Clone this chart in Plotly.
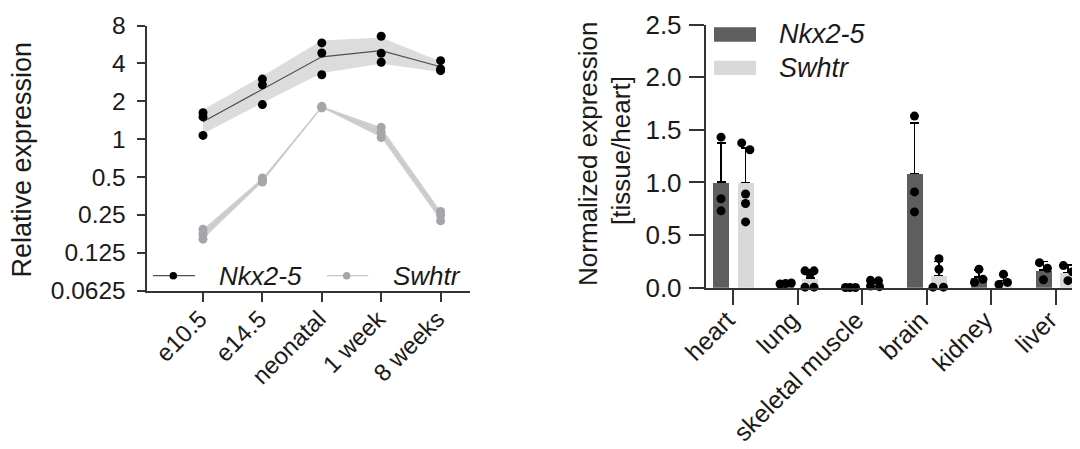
import numpy as np
import plotly.graph_objects as go

# ---------------- data ----------------
stages = ["e10.5", "e14.5", "neonatal", "1 week", "8 weeks"]
nkx_dev = [[1.62, 1.50, 1.07], [3.00, 2.70, 1.88], [5.82, 4.84, 3.25],
           [6.57, 4.81, 4.08], [4.20, 3.61, 3.50]]
swhtr_dev = [[0.192, 0.175, 0.160], [0.490, 0.470, 0.455], [1.82, 1.80, 1.77],
             [1.24, 1.13, 1.03], [0.266, 0.248, 0.224]]
dev_ticks = [0.0625, 0.125, 0.25, 0.5, 1, 2, 4, 8]
dev_tick_labels = ["0.0625", "0.125", "0.25", "0.5", "1", "2", "4", "8"]

tissues = ["heart", "lung", "skeletal muscle", "brain", "kidney", "liver"]
nkx_tis = [[1.43, 0.845, 0.73], [0.035, 0.04, 0.045], [0.002, 0.002, 0.002],
           [1.63, 0.91, 0.72], [0.175, 0.08, 0.05], [0.238, 0.185, 0.076]]
swhtr_tis = [[1.375, 1.31, 0.89, 0.80, 0.625], [0.16, 0.16, 0.13, 0.005, 0.005],
             [0.07, 0.065, 0.015, 0.01], [0.276, 0.175, 0.005, 0.005],
             [0.128, 0.05, 0.03], [0.21, 0.152, 0.067]]
tis_ticks = [0, 0.5, 1.0, 1.5, 2.0, 2.5]

# ---------------- style ----------------
OFF = 8                      # default page body margin
W, H = 1080 - OFF, 449 - OFF
FONT = "Liberation Sans, Arial, sans-serif"
TXT = "#1a1a1a"
AX = "#333333"
NKX_BAR = "#5e5e5e"
SW_BAR = "#d9d9d9"
NKX_LINE = "#505050"
NKX_BAND = "#dcdcdc"
SW_LINE = "#c8c8c8"
SW_BAND = "#cfcfcf"
SW_MARK = "#a6a6aa"
# horizontal scatter spread of replicate dots (category units)
nkx_jit = [[0, 0, 0], [-0.085, 0, 0.09], [-0.07, 0, 0.085], [0, 0, 0],
           [0, 0.062, -0.07], [-0.062, 0.062, 0]]
sw_jit = [[-0.06, 0.067, 0, 0, 0], [-0.078, 0.062, 0, -0.078, 0.062],
          [-0.062, 0.062, -0.062, 0.078], [0, 0, -0.093, 0.07],
          [0, 0.062, -0.07], [-0.07, 0.07, 0]]
BAR_W = 0.25
BAR_C = 0.19


def px(x):
    return (x - OFF) / W


def py(y):
    return 1 - (y - OFF) / H


fig = go.Figure()

# ---------------- left panel ----------------
xi = list(range(len(stages)))


def geo_stats(reps):
    lg = [np.log(np.array(r)) for r in reps]
    m = np.array([v.mean() for v in lg])
    s = np.array([v.std(ddof=1) for v in lg])
    return np.exp(m), np.exp(m + s), np.exp(m - s)


for reps, band, line, mark in [(swhtr_dev, SW_BAND, SW_LINE, SW_MARK),
                               (nkx_dev, NKX_BAND, NKX_LINE, "black")]:
    gm, hi, lo = geo_stats(reps)
    fig.add_trace(go.Scatter(x=xi, y=hi, mode="lines", line=dict(width=0, color=band),
                             showlegend=False, hoverinfo="skip", xaxis="x", yaxis="y"))
    fig.add_trace(go.Scatter(x=xi, y=lo, mode="lines", line=dict(width=0, color=band),
                             fill="tonexty", fillcolor=band, showlegend=False,
                             hoverinfo="skip", xaxis="x", yaxis="y"))
    fig.add_trace(go.Scatter(x=xi, y=gm, mode="lines", line=dict(width=1.2, color=line),
                             showlegend=False, xaxis="x", yaxis="y"))
    xs, ys = [], []
    for i, r in enumerate(reps):
        xs += [i] * len(r)
        ys += r
    fig.add_trace(go.Scatter(x=xs, y=ys, mode="markers",
                             marker=dict(size=9, color=mark, line=dict(width=0)),
                             showlegend=False, xaxis="x", yaxis="y"))

# ---------------- right panel ----------------
ti = np.arange(len(tissues))
for reps, jit, col, sgn in [(nkx_tis, nkx_jit, NKX_BAR, -1), (swhtr_tis, sw_jit, SW_BAR, 1)]:
    means = [float(np.mean(r)) for r in reps]
    sds = [float(np.std(r, ddof=1)) for r in reps]
    fig.add_trace(go.Bar(x=ti, y=means, width=BAR_W, offset=sgn * BAR_C - BAR_W / 2,
                         marker=dict(color=col, line=dict(width=0)),
                         error_y=dict(type="data", array=sds, arrayminus=[0] * len(sds),
                                      symmetric=False, color="black", thickness=1.6, width=4.5),
                         showlegend=False, xaxis="x2", yaxis="y2"))
    xs, ys = [], []
    for i, r in enumerate(reps):
        xs += [i + sgn * BAR_C + j for j in jit[i]]
        ys += r
    fig.add_trace(go.Scatter(x=xs, y=ys, mode="markers",
                             marker=dict(size=9, color="black", line=dict(width=0)),
                             showlegend=False, xaxis="x2", yaxis="y2", cliponaxis=False))

axis_common = dict(showline=True, linecolor=AX, linewidth=1.8, ticks="outside",
                   tickcolor=AX, tickwidth=1.8, showgrid=False, zeroline=False,
                   mirror=False, automargin=False)

fig.update_layout(
    width=W, height=H, autosize=False,
    margin=dict(l=0, r=0, t=0, b=0, pad=0, autoexpand=False),
    paper_bgcolor="white", plot_bgcolor="white",
    font=dict(family=FONT, color=TXT),
    showlegend=False, bargap=0,
    xaxis=dict(domain=[px(146.5), px(470)], range=[-0.951, 4.495],
               tickvals=xi, ticktext=stages, tickangle=-45, ticklen=10,
               ticklabelstandoff=-7, ticklabelshift=-3,
               tickfont=dict(size=24, family=FONT, color=TXT), anchor="y",
               **axis_common),
    yaxis=dict(domain=[py(290.5), py(25.5)], type="log",
               range=[np.log10(0.0625), np.log10(8)], tickvals=dev_ticks,
               ticktext=dev_tick_labels, ticklen=8, ticklabelstandoff=6,
               tickfont=dict(size=24.5, family=FONT, color=TXT), anchor="x",
               **axis_common),
    xaxis2=dict(domain=[px(705.7), 1.0], range=[-0.428, 5.377],
                tickvals=list(ti), ticktext=tissues, tickangle=-45, ticklen=15,
                ticklabelstandoff=-9, ticklabelshift=-6,
                tickfont=dict(size=25, family=FONT, color=TXT), anchor="y2",
                **axis_common),
    yaxis2=dict(domain=[py(287.7), py(24.5)], range=[0, 2.5], tickvals=tis_ticks,
                tickformat=".1f", ticklen=15, ticklabelstandoff=2,
                tickfont=dict(size=26, family=FONT, color=TXT), anchor="x2",
                **axis_common),
)

# axis titles
fig.add_annotation(x=px(21), y=py(159.5), xref="paper", yref="paper",
                   text="Relative expression", textangle=-90, showarrow=False,
                   xanchor="center", yanchor="middle",
                   font=dict(size=27, family=FONT, color=TXT))
fig.add_annotation(x=px(588), y=py(154), xref="paper", yref="paper",
                   text="Normalized expression", textangle=-90, showarrow=False,
                   xanchor="center", yanchor="middle",
                   font=dict(size=26, family=FONT, color=TXT))
fig.add_annotation(x=px(621), y=py(151), xref="paper", yref="paper",
                   text="[tissue/heart]", textangle=-90, showarrow=False,
                   xanchor="center", yanchor="middle",
                   font=dict(size=26, family=FONT, color=TXT))

# left legend (line + dot samples)
for x0, x1, cx, lcol, mcol, label, tx in [
        (153, 195, 173.3, NKX_LINE, "black", "Nkx2-5", 217),
        (326.7, 368.3, 346.7, SW_LINE, SW_MARK, "Swhtr", 390.5)]:
    fig.add_shape(type="line", xref="paper", yref="paper", x0=px(x0), x1=px(x1),
                  y0=py(275.7), y1=py(275.7), line=dict(color=lcol, width=1.2))
    fig.add_shape(type="circle", xref="paper", yref="paper", xsizemode="pixel",
                  ysizemode="pixel", xanchor=px(cx), yanchor=py(275.7),
                  x0=-3.8, x1=3.8, y0=-3.8, y1=3.8, fillcolor=mcol,
                  line=dict(width=0))
    fig.add_annotation(x=px(tx), y=py(275.5), xref="paper", yref="paper",
                       text="<i>%s</i>" % label, showarrow=False, xanchor="left",
                       yanchor="middle", font=dict(size=26, family=FONT, color=TXT))

# right legend (bar swatches)
for y0, y1, col, label in [(27.3, 41.7, NKX_BAR, "Nkx2-5"), (60.7, 75, SW_BAR, "Swhtr")]:
    fig.add_shape(type="rect", xref="paper", yref="paper", x0=px(714), x1=px(756),
                  y0=py(y1), y1=py(y0), fillcolor=col, line=dict(width=0))
    fig.add_annotation(x=px(776.5), y=py((y0 + y1) / 2), xref="paper", yref="paper",
                       text="<i>%s</i>" % label, showarrow=False, xanchor="left",
                       yanchor="middle", font=dict(size=27, family=FONT, color=TXT))

fig.write_html("out.html")
